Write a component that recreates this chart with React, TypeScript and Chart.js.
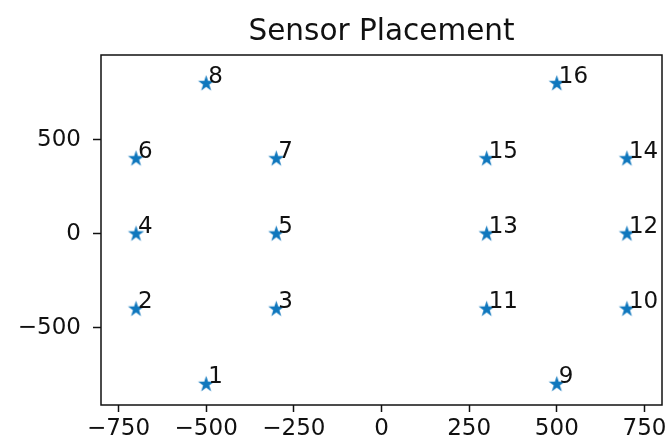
import React, { useEffect, useRef } from 'react';
import { Chart, registerables } from 'chart.js';

Chart.register(...registerables);

const chartTitle = 'Sensor Placement';
const sensorIds = ['1', '2', '3', '4', '5', '6', '7', '8', '9', '10', '11', '12', '13', '14', '15', '16'];
const sensorX = [-500, -700, -300, -700, -300, -700, -300, -500, 500, 700, 300, 700, 300, 700, 300, 500];
const sensorY = [-800, -400, -400, 0, 0, 400, 400, 800, -800, -400, -400, 0, 0, 400, 400, 800];
const xTicks = [-750, -500, -250, 0, 250, 500, 750];
const yTicks = [-500, 0, 500];
const xRange = [-800, 800];
const yRange = [-910, 952];

const FONT = '"DejaVu Sans", "Liberation Sans", sans-serif';
const INK = '#111111';
const STAR_COLOR = '#0f77bd';

function makeStar(color: string, R: number): HTMLCanvasElement {
  const size = Math.ceil(2 * R + 2);
  const c = document.createElement('canvas');
  c.width = size;
  c.height = size;
  const ctx = c.getContext('2d')!;
  const cx = size / 2;
  const cy = size / 2;
  const r = R * 0.381966;
  ctx.beginPath();
  for (let i = 0; i < 10; i++) {
    const rad = i % 2 === 0 ? R : r;
    const a = -Math.PI / 2 + (i * Math.PI) / 5;
    const px = cx + rad * Math.cos(a);
    const py = cy + rad * Math.sin(a);
    if (i === 0) ctx.moveTo(px, py);
    else ctx.lineTo(px, py);
  }
  ctx.closePath();
  ctx.fillStyle = color;
  ctx.fill();
  return c;
}

const fmt = (v: number) => (v < 0 ? '\u2212' + Math.abs(v) : String(v));

const framePlugin = {
  id: 'frameAndLabels',
  afterDatasetsDraw(chart: any) {
    const { ctx } = chart;
    const meta = chart.getDatasetMeta(0);
    ctx.save();
    ctx.fillStyle = INK;
    ctx.font = `23px ${FONT}`;
    ctx.textAlign = 'left';
    ctx.textBaseline = 'alphabetic';
    meta.data.forEach((el: any, i: number) => {
      ctx.fillText(sensorIds[i], el.x + 2, el.y - 1);
    });
    ctx.restore();
  },
  afterDraw(chart: any) {
    const { ctx, chartArea } = chart;
    ctx.save();
    ctx.strokeStyle = INK;
    ctx.lineWidth = 1.5;
    ctx.strokeRect(chartArea.left, chartArea.top, chartArea.right - chartArea.left, chartArea.bottom - chartArea.top);
    ctx.fillStyle = INK;
    ctx.font = `29.5px ${FONT}`;
    ctx.textAlign = 'center';
    ctx.textBaseline = 'alphabetic';
    ctx.fillText(chartTitle, (chartArea.left + chartArea.right) / 2, 39.5);
    ctx.restore();
  },
};

export default function App() {
  const canvasRef = useRef<HTMLCanvasElement | null>(null);

  useEffect(() => {
    document.body.style.margin = '0';
    const canvas = canvasRef.current;
    if (!canvas) return;
    const star = makeStar(STAR_COLOR, 8.5);
    const points = sensorX.map((x, i) => ({ x, y: sensorY[i] }));
    const chart = new Chart(canvas, {
      type: 'scatter',
      data: {
        datasets: [
          {
            data: points,
            pointStyle: star as any,
            pointRadius: 8,
            backgroundColor: STAR_COLOR,
            borderColor: STAR_COLOR,
          },
        ],
      },
      options: {
        responsive: false,
        animation: false,
        events: [],
        layout: { autoPadding: false, padding: { top: 55, right: 3, left: 0, bottom: 0 } },
        plugins: {
          legend: { display: false },
          title: { display: false },
          tooltip: { enabled: false },
        },
        scales: {
          x: {
            type: 'linear',
            min: xRange[0],
            max: xRange[1],
            afterBuildTicks: (scale: any) => {
              scale.ticks = xTicks.map((v) => ({ value: v }));
            },
            afterFit: (scale: any) => {
              scale.height = 37;
              scale.paddingLeft = 0;
              scale.paddingRight = 0;
            },
            border: { display: false },
            grid: {
              display: true,
              drawOnChartArea: false,
              drawTicks: true,
              tickLength: 7,
              tickWidth: 1.5,
              tickColor: INK,
            },
            ticks: {
              autoSkip: false,
              maxRotation: 0,
              padding: 3,
              color: INK,
              font: { family: FONT, size: 23 },
              callback: (v: any) => fmt(Number(v)),
            },
          },
          y: {
            type: 'linear',
            min: yRange[0],
            max: yRange[1],
            afterBuildTicks: (scale: any) => {
              scale.ticks = yTicks.map((v) => ({ value: v }));
            },
            afterFit: (scale: any) => {
              scale.width = 101;
              scale.paddingTop = 0;
              scale.paddingBottom = 0;
            },
            border: { display: false },
            grid: {
              display: true,
              drawOnChartArea: false,
              drawTicks: true,
              tickLength: 8,
              tickWidth: 1.5,
              tickColor: INK,
            },
            ticks: {
              autoSkip: false,
              padding: 12,
              color: INK,
              font: { family: FONT, size: 23 },
              callback: (v: any) => fmt(Number(v)),
            },
          },
        },
      },
      plugins: [framePlugin],
    });
    return () => chart.destroy();
  }, []);

  return (
    <div style={{ position: 'absolute', left: 0, top: 0, width: 665, height: 442, background: '#fff' }}>
      <canvas ref={canvasRef} width={665} height={442} />
    </div>
  );
}
